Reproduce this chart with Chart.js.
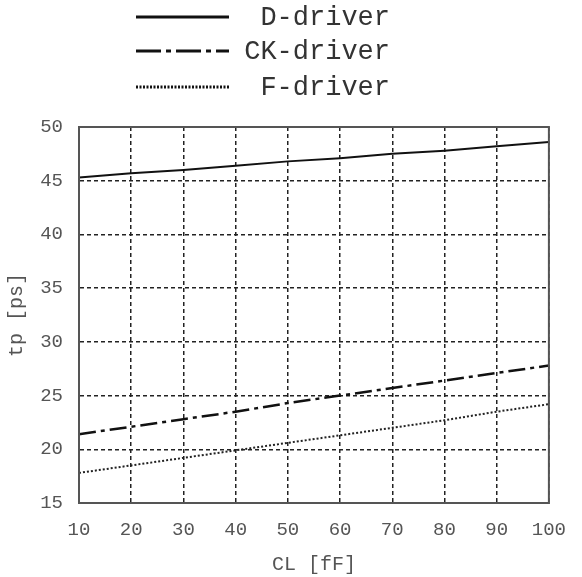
<!doctype html>
<html>

<head>
	<title>tp vs CL</title>
	<script src="https://cdn.jsdelivr.net/npm/chart.js@4/dist/chart.umd.min.js"></script>
	<style>
		body { margin: 0; background: #fff; }
		#canvas-holder { width: 582px; height: 577px; }
	</style>
</head>

<body>
	<div id="canvas-holder">
		<canvas id="chart-area"></canvas>
	</div>

	<script>
		// load capacitance CL [fF]
		const cl = [10, 20, 30, 40, 50, 60, 70, 80, 90, 100];
		// propagation delay tp [ps]
		const dDriver = [45.3, 45.7, 46.0, 46.4, 46.8, 47.1, 47.5, 47.8, 48.2, 48.6];
		const ckDriver = [21.4, 22.1, 22.8, 23.5, 24.3, 25.0, 25.7, 26.4, 27.1, 27.8];
		const fDriver = [17.8, 18.5, 19.2, 19.9, 20.6, 21.3, 22.0, 22.7, 23.5, 24.2];
		const seriesNames = ['D-driver', 'CK-driver', 'F-driver'];

		const mono = "'Liberation Mono', 'DejaVu Sans Mono', monospace";

		const toPoints = (ys) => cl.map((x, i) => ({x: x, y: ys[i]}));

		// legend drawn by hand so that the dash styles show as lines
		const lineLegend = {
			id: 'lineLegend',
			afterDraw(chart) {
				const ctx = chart.ctx;
				const rows = [17, 51, 87];
				chart.data.datasets.forEach((ds, i) => {
					const y = rows[i];
					ctx.save();
					ctx.strokeStyle = '#111';
					ctx.lineWidth = 3;
					ctx.setLineDash(ds.legendDash);
					ctx.beginPath();
					ctx.moveTo(136, y);
					ctx.lineTo(229, y);
					ctx.stroke();
					ctx.setLineDash([]);
					ctx.fillStyle = '#333';
					ctx.font = '27px ' + mono;
					ctx.textAlign = 'right';
					ctx.textBaseline = 'middle';
					ctx.fillText(ds.label, 390, y + 1);
					ctx.restore();
				});
			}
		};

		// solid frame round the plot area
		const frame = {
			id: 'frame',
			afterDatasetsDraw(chart) {
				const {ctx, chartArea: a} = chart;
				ctx.save();
				ctx.strokeStyle = '#555';
				ctx.lineWidth = 2;
				ctx.strokeRect(a.left, a.top, a.right - a.left, a.bottom - a.top);
				ctx.restore();
			}
		};

		const ctx2d = document.getElementById('chart-area').getContext('2d');
		window.myChart = new Chart(ctx2d, {
			type: 'line',
			data: {
				datasets: [{
					label: seriesNames[0],
					data: toPoints(dDriver),
					borderColor: '#111',
					borderWidth: 2,
					borderDash: [],
					legendDash: []
				}, {
					label: seriesNames[1],
					data: toPoints(ckDriver),
					borderColor: '#111',
					borderWidth: 2.5,
					borderDash: [17, 5, 4, 5],
					legendDash: [25, 5, 5, 5]
				}, {
					label: seriesNames[2],
					data: toPoints(fDriver),
					borderColor: '#222',
					borderWidth: 2,
					borderDash: [2, 2],
					legendDash: [2, 1.5]
				}]
			},
			options: {
				responsive: true,
				maintainAspectRatio: false,
				animation: false,
				layout: {
					padding: {top: 127, right: 19, left: 0, bottom: 0}
				},
				elements: {
					point: {radius: 0},
					line: {tension: 0}
				},
				scales: {
					x: {
						type: 'linear',
						min: 10,
						max: 100,
						afterFit(scale) { scale.height = 74; },
						ticks: {
							stepSize: 10,
							padding: 16,
							color: '#555',
							font: {family: mono, size: 19}
						},
						grid: {
							color: '#222',
							lineWidth: 1.5,
							drawTicks: false
						},
						border: {display: true, color: '#555', width: 2, dash: [4, 3]},
						title: {
							display: true,
							text: 'CL [fF]',
							color: '#555',
							font: {family: mono, size: 20},
							padding: {top: 0, bottom: 0}
						}
					},
					y: {
						min: 15,
						max: 50,
						afterFit(scale) { scale.width = 79; },
						ticks: {
							stepSize: 5,
							padding: 16,
							color: '#555',
							font: {family: mono, size: 19}
						},
						grid: {
							color: '#222',
							lineWidth: 1.5,
							drawTicks: false
						},
						border: {display: true, color: '#555', width: 2, dash: [4, 3]},
						title: {
							display: true,
							text: 'tp [ps]',
							color: '#555',
							font: {family: mono, size: 20},
							padding: {top: 5, bottom: 0}
						}
					}
				},
				plugins: {
					legend: {display: false},
					tooltip: {enabled: false}
				}
			},
			plugins: [lineLegend, frame]
		});
	</script>
</body>

</html>
